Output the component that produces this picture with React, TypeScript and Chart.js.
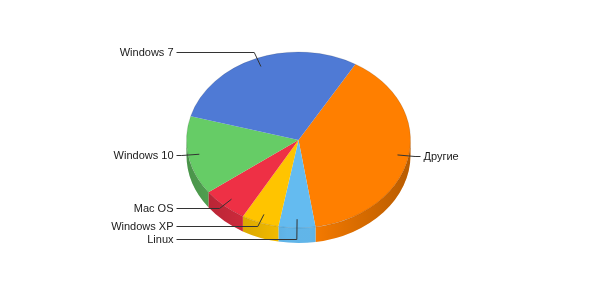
import React, { useEffect, useRef } from "react";
import { Chart, registerables } from "chart.js";

Chart.register(...registerables);

// OS share, clockwise from the start angle
const labels = ["Другие", "Linux", "Windows XP", "Mac OS", "Windows 10", "Windows 7"];
const shares = [39.1, 5.3, 5.4, 6.6, 14.5, 29.1];
const colors = ["#FF7F00", "#64BBF0", "#FFC400", "#EE3045", "#66CC66", "#4F7AD5"];

const TILT = 88 / 112; // vertical squash of the pie
const DEPTH = 15; // thickness of the extruded rim

function geom(chart: any) {
  const meta = chart.getDatasetMeta(0);
  const el0 = meta.data[0];
  return { meta, cx: el0.x, cy: el0.y, rx: el0.outerRadius, ry: el0.outerRadius * TILT };
}

const pie3d = {
  id: "pie3d",
  beforeDatasetsDraw(chart: any) {
    const { ctx } = chart;
    const { meta, cx, cy, rx, ry } = geom(chart);
    const TWO = Math.PI * 2;
    // rim: front half only (0..PI in canvas angles)
    meta.data.forEach((el: any, i: number) => {
      const s = el.startAngle;
      const e = el.endAngle;
      for (let k = -1; k <= 1; k++) {
        const a0 = Math.max(s + k * TWO, 0);
        const a1 = Math.min(e + k * TWO, Math.PI);
        if (a1 <= a0) continue;
        ctx.save();
        ctx.beginPath();
        ctx.ellipse(cx, cy, rx, ry, 0, a0, a1, false);
        ctx.ellipse(cx, cy + DEPTH, rx, ry, 0, a1, a0, true);
        ctx.closePath();
        ctx.fillStyle = colors[i];
        ctx.fill();
        const g = ctx.createLinearGradient(cx - rx, 0, cx + rx, 0);
        g.addColorStop(0, "rgba(0,0,0,0.28)");
        g.addColorStop(0.45, "rgba(0,0,0,0.03)");
        g.addColorStop(0.55, "rgba(0,0,0,0.03)");
        g.addColorStop(1, "rgba(0,0,0,0.28)");
        ctx.fillStyle = g;
        ctx.fill();
        ctx.restore();
      }
    });
    // squash the top face into an ellipse
    ctx.save();
    ctx.translate(cx, cy);
    ctx.scale(1, TILT);
    ctx.translate(-cx, -cy);
  },
  afterDatasetsDraw(chart: any) {
    const { ctx } = chart;
    ctx.restore();
    const { cx, cy, rx, ry } = geom(chart);
    ctx.save();
    ctx.beginPath();
    ctx.ellipse(cx, cy, rx, ry, 0, 0, Math.PI * 2);
    ctx.strokeStyle = "rgba(0,0,0,0.12)";
    ctx.lineWidth = 1;
    ctx.stroke();
    ctx.restore();
  },
  afterDraw(chart: any) {
    const { ctx } = chart;
    const { meta, cx, cy, rx, ry } = geom(chart);
    const items = meta.data.map((el: any, i: number) => {
      const mid = (el.startAngle + el.endAngle) / 2;
      const c = Math.cos(mid);
      const s = Math.sin(mid);
      return {
        text: labels[i],
        ax: cx + 0.9 * rx * c,
        ay: cy + 0.9 * ry * s,
        bx: cx + 1.06 * rx * c,
        by: cy + 1.06 * ry * s - 1.5,
        right: c >= 0,
      };
    });
    // keep labels on each side at least 13px apart
    [true, false].forEach((side) => {
      const grp = items.filter((it: any) => it.right === side).sort((a: any, b: any) => a.by - b.by);
      for (let k = 1; k < grp.length; k++) {
        if (grp[k].by < grp[k - 1].by + 13) grp[k].by = grp[k - 1].by + 13;
      }
    });
    ctx.save();
    ctx.strokeStyle = "#333";
    ctx.lineWidth = 1;
    ctx.fillStyle = "#1a1a1a";
    ctx.font = '11px "Liberation Sans", Arial, sans-serif';
    ctx.textBaseline = "middle";
    items.forEach((it: any) => {
      const by = Math.round(it.by) + 0.5;
      const ex = it.right ? cx + rx + 10 : cx - rx - 10;
      ctx.beginPath();
      ctx.moveTo(it.ax, it.ay);
      ctx.lineTo(it.bx, by);
      ctx.lineTo(ex, by);
      ctx.stroke();
      ctx.textAlign = it.right ? "left" : "right";
      ctx.fillText(it.text, it.right ? ex + 3 : ex - 3, by);
    });
    ctx.restore();
  },
};

export default function App() {
  const ref = useRef<HTMLCanvasElement>(null);
  useEffect(() => {
    const chart = new Chart(ref.current!, {
      type: "pie",
      data: {
        labels,
        datasets: [{ data: shares, backgroundColor: colors, borderWidth: 0 }],
      },
      options: {
        animation: false,
        responsive: false,
        rotation: 30.5,
        layout: { padding: { left: 186.5, right: 189.5, top: 28, bottom: 48 } },
        plugins: { legend: { display: false }, tooltip: { enabled: false } },
      },
      plugins: [pie3d],
    });
    return () => chart.destroy();
  }, []);
  return (
    <div style={{ position: "fixed", left: 0, top: 0, width: 600, height: 300, background: "#fff" }}>
      <canvas ref={ref} width={600} height={300} />
    </div>
  );
}
